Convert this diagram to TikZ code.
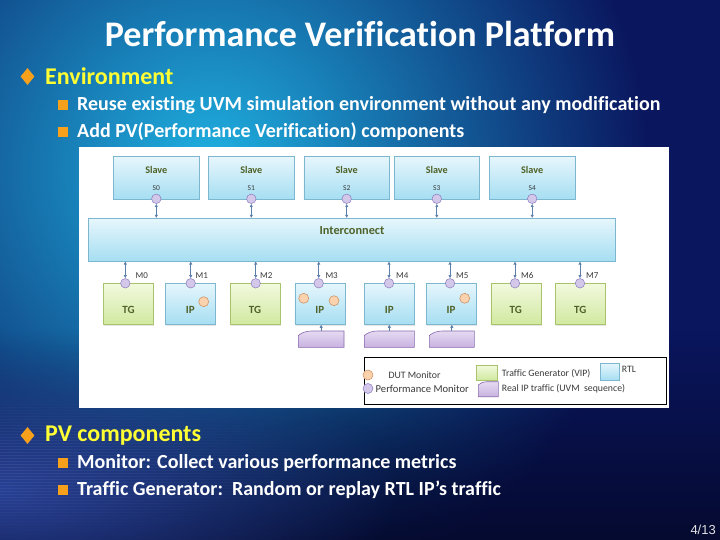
\documentclass[tikz,border=0pt]{standalone}
\usepackage{fontspec}
\setmainfont{Carlito}[Ligatures={NoCommon}]
\newfontfamily\pagefont{Liberation Sans}
\usetikzlibrary{arrows.meta,fadings,shapes.geometric,shadows}
\definecolor{bgnavy}{HTML}{0A165E}
\definecolor{bgcyan}{HTML}{1FB2E2}
\definecolor{bgdark}{HTML}{040828}
\definecolor{bglow}{HTML}{2B449A}
\definecolor{rtltop}{HTML}{E6F6FC}
\definecolor{rtlbot}{HTML}{A6DEF2}
\definecolor{rtlline}{HTML}{7DB6CF}
\definecolor{tgtop}{HTML}{F2F9DE}
\definecolor{tgbot}{HTML}{D1E9A0}
\definecolor{tgline}{HTML}{A8C36C}
\definecolor{pmfill}{HTML}{D3C7EA}
\definecolor{pmline}{HTML}{8B7CBD}
\definecolor{dutfill}{HTML}{FBD2AE}
\definecolor{dutline}{HTML}{C98C5C}
\definecolor{trtop}{HTML}{E6DAF2}
\definecolor{trbot}{HTML}{C8B2E0}
\definecolor{trline}{HTML}{8767AD}
\definecolor{connc}{HTML}{5A7FAA}
\definecolor{boxtext}{HTML}{4F6228}
\definecolor{bulletor}{HTML}{F7A01C}
\definecolor{headyel}{HTML}{FFFF33}
\definecolor{legtext}{HTML}{3A3A3A}
\tikzfading[name=tobottom, top color=transparent!100, bottom color=transparent!0]
\tikzfading[name=softglow, inner color=transparent!0, outer color=transparent!100]
\tikzset{
  rtl/.style={draw=rtlline, line width=0.6pt, top color=rtltop, bottom color=rtlbot, inner sep=0pt,
    drop shadow={opacity=0.2, shadow xshift=0.8pt, shadow yshift=-1.2pt}},
  tg/.style={draw=tgline, line width=0.6pt, top color=tgtop, bottom color=tgbot, inner sep=0pt,
    drop shadow={opacity=0.2, shadow xshift=0.8pt, shadow yshift=-1.2pt}},
  pm/.style={circle, draw=pmline, line width=0.5pt, fill=pmfill, minimum size=9.5pt, inner sep=0pt},
  dut/.style={circle, draw=dutline, line width=0.5pt, fill=dutfill, minimum size=10pt, inner sep=0pt},
  trshape/.style={draw=trline, line width=0.6pt, top color=trtop, bottom color=trbot},
  conn/.style={draw=connc, line width=0.8pt, {Latex[length=3.2pt,width=3.4pt]}-{Latex[length=3.2pt,width=3.4pt]}},
  connup/.style={draw=connc, line width=0.8pt, -{Latex[length=3.2pt,width=3.4pt]}},
  boxlbl/.style={font=\bfseries\fontsize{10.2}{12}\selectfont, text=boxtext, inner sep=0pt},
  iclbl/.style={font=\bfseries\fontsize{12.3}{14}\selectfont, text=boxtext, inner sep=0pt},
  mtlbl/.style={font=\bfseries\fontsize{11}{13}\selectfont, text=boxtext, inner sep=0pt},
  slbl/.style={font=\fontsize{7.5}{8}\selectfont, text=legtext, inner sep=0pt},
  mlbl/.style={font=\fontsize{9}{10}\selectfont, text=legtext, inner sep=0pt, anchor=west},
  legtxt/.style={font=\fontsize{9.8}{11}\selectfont, text=legtext, inner sep=0pt, anchor=west},
  titletxt/.style={font=\bfseries\fontsize{36}{40}\selectfont, text=white, inner sep=0pt},
  headtxt/.style={font=\bfseries\fontsize{24}{28}\selectfont, text=headyel, inner sep=0pt, anchor=west},
  bultxt/.style={font=\bfseries\fontsize{20}{24}\selectfont, text=white, inner sep=0pt, anchor=west},
  dbul/.style={diamond, fill=bulletor, minimum width=14pt, minimum height=17pt, inner sep=0pt},
  sbul/.style={rectangle, fill=bulletor, minimum size=10pt, inner sep=0pt},
}
\begin{document}
\begin{tikzpicture}[x=1pt,y=-1pt]
\useasboundingbox (0,0) rectangle (720,540);
% background
\fill[bgnavy] (0,0) rectangle (720,540);
\begin{scope}
  \clip (0,0) rectangle (720,540);
  \shade[inner color=bgcyan, outer color=bgnavy] (210,170) circle (440);
  \fill[bgdark, path fading=tobottom, fill opacity=0.85] (0,330) rectangle (720,540);
  \fill[bglow, path fading=softglow, fill opacity=0.95] (-400,340) rectangle (400,640);
  \draw[white, line width=0.7pt, draw opacity=0.07, path fading=softglow]
    \foreach \yy in {392,395,...,540}{(-330,\yy) -- (330,\yy)};
\end{scope}
% title and bullets
\node[titletxt] (title) at (360,34) {Performance Verification Platform};
\node[dbul] (d1) at (27.5,76.5) {};
\node[headtxt] (h1) at (45,76.5) {Environment};
\node[sbul] (b1) at (63,105.5) {};
\node[bultxt] (t1) at (77,105.5) {Reuse existing UVM simulation environment without any modification};
\node[sbul] (b2) at (63,132) {};
\node[bultxt] (t2) at (77,132) {Add PV(Performance Verification) components};
\node[dbul] (d2) at (27.5,435.5) {};
\node[headtxt] (h2) at (45,435.5) {PV components};
\node[sbul] (b3) at (63,463) {};
\node[bultxt] (t3) at (77,463) {Monitor: Collect various performance metrics};
\node[sbul] (b4) at (63,490) {};
\node[bultxt] (t4) at (77,490) {Traffic Generator:\ \ Random or replay RTL IP’s traffic};
\node[font=\pagefont\fontsize{13}{15}\selectfont, text=white!88!black, inner sep=0pt, anchor=east] (pg) at (716,530) {4/13};
% diagram panel
\fill[white] (79,147) rectangle (669,408);
% slaves
\foreach \i/\x in {0/156.3,1/251.3,2/346.7,3/436.8,4/532.2}{
  \node[rtl, minimum width=85.5pt, minimum height=42.5pt] (s\i) at (\x,178) {};
  \node[boxlbl] (s\i t) at (\x,169.5) {Slave};
  \node[slbl] (s\i l) at (\x,188) {S\i};
  \node[pm] (sp\i) at (\x,198.8) {};
}
% interconnect
\node[rtl, minimum width=526.6pt, minimum height=42.7pt] (ic) at (352,239.7) {};
\node[iclbl] (ict) at (352,231) {Interconnect};
\foreach \i in {0,...,4}{
  \draw[conn] (sp\i.south) -- (sp\i.south |- ic.north);
}
% masters
\foreach \i/\bx/\cx/\lx/\t/\sty in {0/128.5/125.3/135.5/TG/tg, 1/190.3/190.7/195.5/IP/rtl, 2/255/255.7/260/TG/tg, 3/319.8/318.7/325.3/IP/rtl, 4/389.3/389/396/IP/rtl, 5/451/450/456/IP/rtl, 6/515.8/515/521/TG/tg, 7/580.3/580/586/TG/tg}{
  \node[\sty, minimum width=50pt, minimum height=41pt] (m\i) at (\bx,303.8) {};
  \node[mtlbl] (m\i t) at (\bx,310) {\t};
  \node[pm] (mp\i) at (\cx,283.3) {};
  \node[mlbl] (m\i l) at (\lx,275.5) {M\i};
  \draw[conn] (mp\i.north) -- (mp\i.north |- ic.south);
}
% DUT monitors
\node[dut] (dut1) at (203.7,301.7) {};
\node[dut] (dut3a) at (303.7,298.3) {};
\node[dut] (dut3b) at (334,300.7) {};
\node[dut] (dut5) at (464.7,298.3) {};
% real IP traffic
\foreach \i/\xa/\xb in {3/298.3/344, 4/364.3/414.3, 5/429.3/474.3}{
  \draw[trshape] (\xa,347.3) -- (\xa,335.5) .. controls (\xa+4,332.2) and (\xa+8,331.2) .. (\xa+13,331) -- (\xb,331) -- (\xb,347.3) -- cycle;
  \coordinate (tr\i) at ({(\xa+\xb)/2},331);
  \draw[connup] (tr\i) -- (tr\i |- m\i.south);
}
% legend
\node[draw=black, line width=0.9pt, minimum width=302pt, minimum height=47.2pt, inner sep=0pt] (leg) at (515,380.9) {};
\node[dut] (lg1) at (368,375) {};
\node[legtxt] (lg1t) at (388.3,375) {DUT Monitor};
\node[pm, minimum size=10pt] (lg2) at (368,388.5) {};
\node[legtxt, font=\fontsize{10.6}{12}\selectfont] (lg2t) at (375.5,388.5) {Performance Monitor};
\node[tg, minimum width=21.3pt, minimum height=15pt, drop shadow={opacity=0}] (lg3) at (486.7,372.5) {};
\node[legtxt] (lg3t) at (501.7,373.5) {Traffic Generator (VIP)};
\node[rtl, minimum width=18.6pt, minimum height=17pt, drop shadow={opacity=0}] (lg4) at (610,371.5) {};
\node[legtxt] (lg4t) at (621.7,369) {RTL};
\draw[trshape] (478.3,396.7) -- (478.3,385) .. controls (480,383) and (483,382) .. (487,381.7) -- (498.3,381.7) -- (498.3,396.7) -- cycle;
\coordinate (lg5) at (488.3,389);
\node[legtxt] (lg5t) at (501.7,388.5) {Real IP traffic (UVM\ \ sequence)};
\end{tikzpicture}
\end{document}
